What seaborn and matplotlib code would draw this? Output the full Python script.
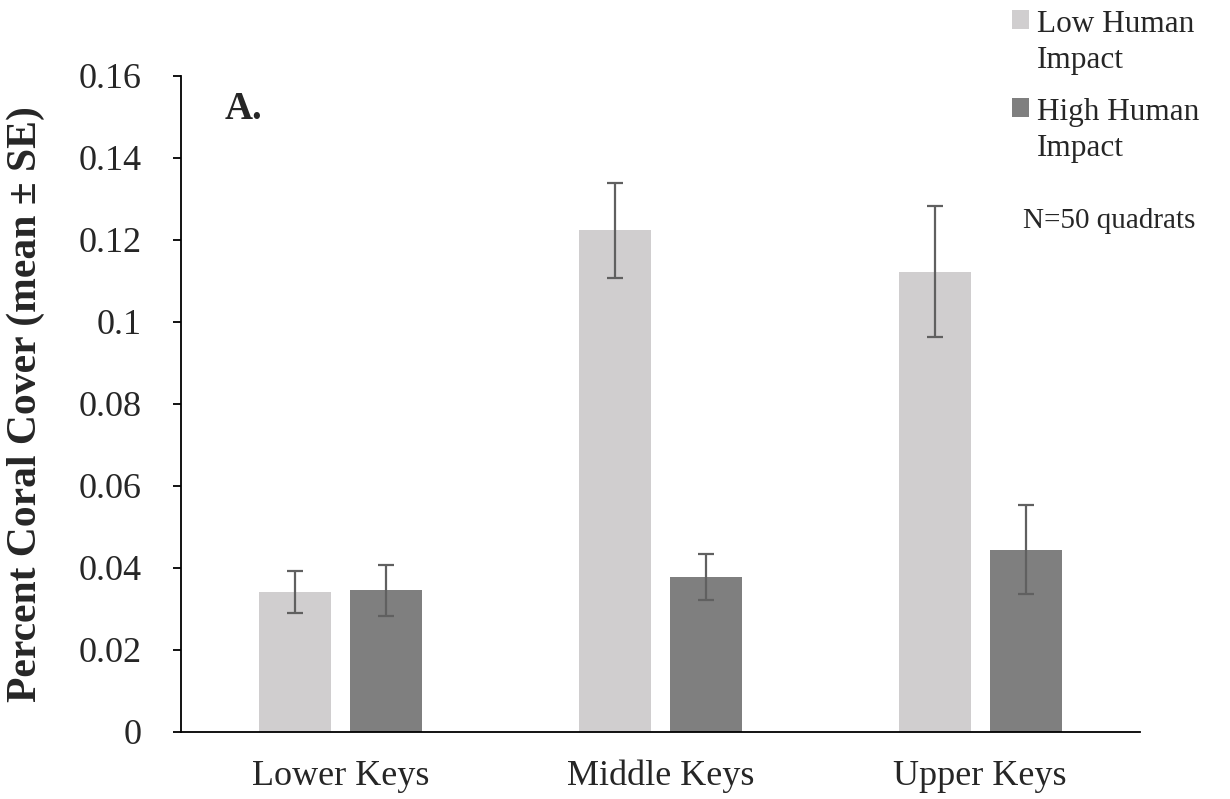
import matplotlib
matplotlib.use("Agg")
import matplotlib.pyplot as plt
import matplotlib.ticker as mticker
from matplotlib.patches import Patch
import numpy as np
import pandas as pd
import seaborn as sns

# ---- data ----
categories = ["Lower Keys", "Middle Keys", "Upper Keys"]
groups = ["Low Human Impact", "High Human Impact"]
low_mean = [0.0341, 0.1224, 0.1123]
low_se = [0.0051, 0.0116, 0.0160]
high_mean = [0.0346, 0.0378, 0.0445]
high_se = [0.0062, 0.0056, 0.0109]
yticks = [0, 0.02, 0.04, 0.06, 0.08, 0.10, 0.12, 0.14, 0.16]

colors = ["#D0CECF", "#7F7F7F"]
err_color = "#606060"

df = pd.DataFrame({
    "Region": categories * 2,
    "Impact": [groups[0]] * 3 + [groups[1]] * 3,
    "Cover": low_mean + high_mean,
})
ses = {groups[0]: low_se, groups[1]: high_se}

sns.set_style("white")
plt.rcParams["font.family"] = ["Liberation Serif", "DejaVu Serif"]

fig = plt.figure(figsize=(12.3, 7.99), dpi=100)
ax = fig.add_axes([181 / 1230, 1 - 732 / 799, (1140 - 181) / 1230, (732 - 76) / 799])

sns.barplot(data=df, x="Region", y="Cover", hue="Impact", order=categories,
            hue_order=groups, palette=colors, width=0.57, gap=0.21,
            errorbar=None, linewidth=0, ax=ax, legend=False)

for cont, g in zip(ax.containers, groups):
    xs = [b.get_x() + b.get_width() / 2 for b in cont]
    hs = [b.get_height() for b in cont]
    ax.errorbar(xs, hs, yerr=ses[g], fmt="none", ecolor=err_color,
                elinewidth=1.6, capsize=6, capthick=1.6, zorder=5)

ax.set_ylim(0, 0.16)
ax.set_xlim(-0.5, 2.5)
ax.set_yticks(yticks)
ax.yaxis.set_major_formatter(mticker.FuncFormatter(lambda v, p: f"{v:g}"))
ax.set_xticks(range(len(categories)))
ax.set_xticklabels(categories)
ax.set_xticks([-0.5, 0.5, 1.5, 2.5], minor=True)
ax.tick_params(axis="x", which="major", length=0, pad=20, labelsize=26)
ax.tick_params(axis="x", which="minor", length=8, width=1.3, direction="out", color="black")
ax.tick_params(axis="y", which="major", length=6, width=1.3, direction="out",
               color="black", pad=22, labelsize=26, left=True)
for s in ["top", "right"]:
    ax.spines[s].set_visible(False)
for s in ["left", "bottom"]:
    ax.spines[s].set_color("black")
    ax.spines[s].set_linewidth(1.3)

ax.set_xlabel("")
ax.set_ylabel("Percent Coral Cover (mean ± SE)", fontsize=30, fontweight="bold")
ax.yaxis.set_label_coords((45 - 181) / 959, 0.5)

fig.text(225 / 1230, 1 - 119 / 799, "A.", fontsize=28, fontweight="bold",
         ha="left", va="baseline")
fig.text(1023 / 1230, 1 - 228 / 799, "N=50 quadrats", fontsize=21,
         ha="left", va="baseline")

handles = [Patch(facecolor=c, edgecolor="none") for c in colors]
labels = ["Low Human\nImpact", "High Human\nImpact"]
leg = ax.legend(handles, labels, loc="upper left",
                bbox_to_anchor=(1012 / 1230, 1 - 10 / 799), bbox_transform=fig.transFigure,
                frameon=False, fontsize=22.5, handlelength=0.55, handleheight=0.55,
                handletextpad=0.25, labelspacing=0.75, borderpad=0, borderaxespad=0)
for t in leg.get_texts():
    t.set_linespacing(1.3)
for col in leg._legend_handle_box.get_children():
    for row in col.get_children():
        row.align = "top"

fig.savefig("out.png", dpi=100, facecolor="white")
